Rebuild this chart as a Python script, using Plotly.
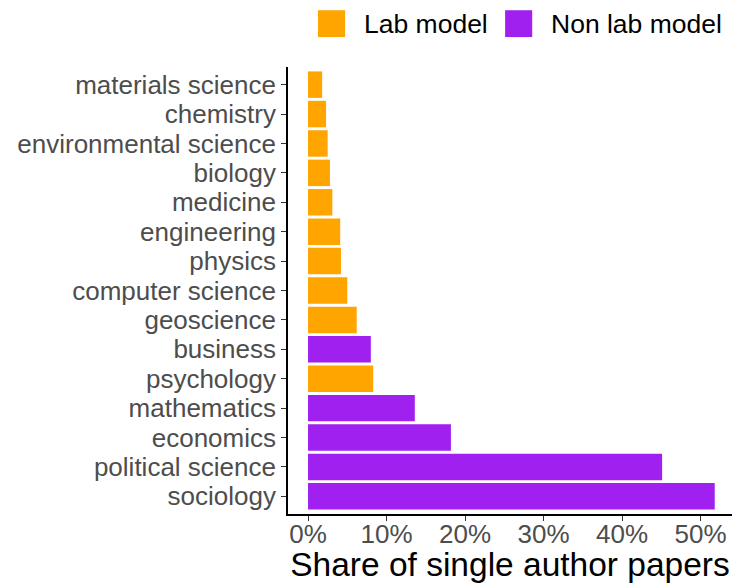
import plotly.graph_objects as go

# bottom to top
fields = ['sociology', 'political science', 'economics', 'mathematics', 'psychology',
          'business', 'geoscience', 'computer science', 'physics', 'engineering',
          'medicine', 'biology', 'environmental science', 'chemistry', 'materials science']
share = [0.518, 0.451, 0.182, 0.136, 0.083, 0.080, 0.062, 0.050, 0.042, 0.041,
         0.031, 0.028, 0.025, 0.023, 0.018]
model = ['Non lab model', 'Non lab model', 'Non lab model', 'Non lab model', 'Lab model',
         'Non lab model', 'Lab model', 'Lab model', 'Lab model', 'Lab model',
         'Lab model', 'Lab model', 'Lab model', 'Lab model', 'Lab model']
groups = ['Lab model', 'Non lab model']
colors = {'Lab model': '#FFA500', 'Non lab model': '#A020F0'}
x_ticks = [0, 0.1, 0.2, 0.3, 0.4, 0.5]

FONT = 'Liberation Sans, Arial, Helvetica, sans-serif'

fig = go.Figure()
for g in groups:
    ys = [f for f, m in zip(fields, model) if m == g]
    xs = [v for v, m in zip(share, model) if m == g]
    fig.add_trace(go.Bar(x=xs, y=ys, orientation='h', name=g, width=0.9,
                         marker=dict(color=colors[g], line=dict(width=0)),
                         showlegend=False))

# legend drawn by hand so the keys can be as large as ggplot's
legend_items = [(0.0676, 'Lab model'), (0.489, 'Non lab model')]
for x0, g in legend_items:
    fig.add_shape(type='rect', xref='paper', yref='paper',
                  x0=x0, x1=x0 + 0.061, y0=1.067, y1=1.127,
                  fillcolor=colors[g], line=dict(width=0))
    fig.add_annotation(x=x0 + 0.099, y=1.097, xref='paper', yref='paper',
                       text=g, showarrow=False, xanchor='left', yanchor='middle',
                       font=dict(size=26.5, color='black', family=FONT))

fig.update_layout(
    width=733, height=583,
    margin=dict(l=288, r=1, t=67, b=69),
    plot_bgcolor='white', paper_bgcolor='white',
    barmode='overlay',
    font=dict(family=FONT),
    xaxis=dict(range=[-0.0255, 0.540], tickformat='.0%', tickmode='array', tickvals=x_ticks,
               showgrid=False, zeroline=False, showline=True, linecolor='black', linewidth=1.6,
               ticks='outside', ticklen=5, tickwidth=1.3, tickcolor='#333333',
               tickfont=dict(size=26, color='#4D4D4D'), automargin=False,
               ticklabelstandoff=-9,
               title=dict(text='Share of single author papers', font=dict(size=33.5, color='black'),
                          standoff=3)),
    yaxis=dict(categoryorder='array', categoryarray=fields, range=[-0.6, 14.6],
               tickmode='array', tickvals=fields,
               showgrid=False, zeroline=False, showline=True, linecolor='black', linewidth=1.6,
               ticks='outside', ticklen=5, tickwidth=1.3, tickcolor='#333333',
               tickfont=dict(size=26, color='#4D4D4D'), automargin=False),
)

fig.write_html('out.html', config={'displayModeBar': False},
               post_script="document.body.style.margin='0';")
